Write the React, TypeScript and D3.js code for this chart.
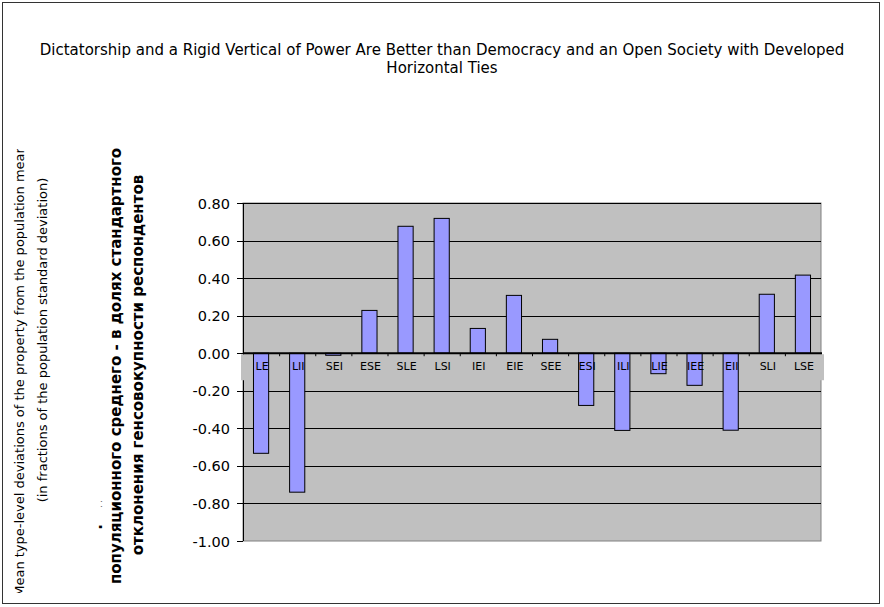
import React from "react";
import * as d3 from "d3";

const categories = ["LE", "LII", "SEI", "ESE", "SLE", "LSI", "IEI", "EIE", "SEE", "ESI", "ILI", "LIE", "IEE", "EII", "SLI", "LSE"];
const values = [-0.533, -0.74, -0.011, 0.228, 0.676, 0.718, 0.132, 0.308, 0.074, -0.278, -0.411, -0.109, -0.171, -0.41, 0.314, 0.416];
const yTicks = [0.8, 0.6, 0.4, 0.2, 0, -0.2, -0.4, -0.6, -0.8, -1.0];
const titleLines = [
  "Dictatorship and a Rigid Vertical of Power Are Better than Democracy and an Open Society with Developed",
  "Horizontal Ties",
];
const enAxis1 = "Mean type-level deviations of the property from the population mean";
const enAxis2 = "(in fractions of the population standard deviation)";
const ruAxis1 = "популяционного среднего - в долях стандартного";
const ruAxis2 = "отклонения генсовокупности респондентов";

const W = 884;
const H = 607;
const plot = { left: 243, right: 821, top: 203, bottom: 541 };

const fmt = d3.formatLocale({ decimal: ".", thousands: ",", grouping: [3], currency: ["", ""], minus: "-" }).format(".2f");

export default function App() {
  const x = d3.scaleBand<string>().domain(categories).range([plot.left, plot.right]).padding(0);
  const y = d3.scaleLinear().domain([-1, 0.8]).range([plot.bottom, plot.top]);
  const bw = x.bandwidth() * 0.42;
  const y0 = y(0);
  const font = "'DejaVu Sans', Verdana, sans-serif";

  return (
    <svg width={W} height={H} style={{ position: "absolute", left: 0, top: 0, background: "#fff" }}>
      <defs>
        <clipPath id="enclip">
          <rect x={0} y={149} width={40} height={444} />
        </clipPath>
      </defs>
      <rect x={2.5} y={2.5} width={877} height={601} fill="#fff" stroke="#333" strokeWidth={1} />
      {titleLines.map((t, i) => (
        <text key={i} x={442} y={55 + i * 18} textAnchor="middle" fontFamily={font} fontSize={15} fill="#000">
          {t}
        </text>
      ))}
      {/* plot background */}
      <rect x={plot.left} y={plot.top} width={plot.right - plot.left} height={plot.bottom - plot.top} fill="#C0C0C0" stroke="#808080" strokeWidth={1} />
      {yTicks.map((v) => (
        <line key={"g" + v} x1={plot.left} x2={plot.right} y1={Math.round(y(v)) + 0.5} y2={Math.round(y(v)) + 0.5} stroke="#000" strokeWidth={1} opacity={v === -1 ? 0 : 1} />
      ))}
      <line x1={plot.left + 0.5} x2={plot.left + 0.5} y1={plot.top} y2={plot.bottom} stroke="#000" />
      {yTicks.map((v) => (
        <g key={"t" + v}>
          <line x1={plot.left - 6} x2={plot.left} y1={Math.round(y(v)) + 0.5} y2={Math.round(y(v)) + 0.5} stroke="#000" />
          <text x={230} y={y(v) + 5.5} textAnchor="end" fontFamily={font} fontSize={14.5} fill="#000">
            {fmt(v)}
          </text>
        </g>
      ))}
      {/* label band */}
      <rect x={241} y={y0 + 1} width={583} height={26} fill="#C0C0C0" />
      {categories.map((c, i) => {
        const v = values[i];
        const cx = (x(c) as number) + x.bandwidth() / 2;
        return (
          <rect key={c} x={cx - bw / 2} y={Math.min(y(v), y0)} width={bw} height={Math.abs(y(v) - y0)} fill="#9999FF" stroke="#000" strokeWidth={1} />
        );
      })}
      <line x1={plot.left} x2={plot.right + 1} y1={y0} y2={y0} stroke="#000" strokeWidth={2} />
      {categories.slice(1).map((c) => (
        <line key={"ct" + c} x1={(x(c) as number) + 0.5} x2={(x(c) as number) + 0.5} y1={y0} y2={y0 + 3} stroke="#000" />
      ))}
      {categories.map((c) => (
        <text key={"l" + c} x={(x(c) as number) + x.bandwidth() / 2 + 1} y={y0 + 17} textAnchor="middle" fontFamily={font} fontSize={11} fill="#000">
          {c}
        </text>
      ))}
      {/* axis titles */}
      <g clipPath="url(#enclip)">
        <text transform={`translate(24,371) rotate(-90)`} textAnchor="middle" fontFamily={font} fontSize={13} fill="#000">
          {enAxis1}
        </text>
      </g>
      <text transform={`translate(47,340) rotate(-90)`} textAnchor="middle" fontFamily={font} fontSize={13} fill="#000">
        {enAxis2}
      </text>
      <text transform={`translate(102,504) rotate(-90)`} textAnchor="middle" fontFamily={font} fontSize={8} fill="#555">
        {". ."}
      </text>
      <text transform={`translate(102,527) rotate(-90)`} textAnchor="middle" fontFamily={font} fontWeight="bold" fontSize={15} fill="#000">
        {"."}
      </text>
      <text transform={`translate(121,366) rotate(-90)`} textAnchor="middle" fontFamily={font} fontWeight="bold" fontSize={15} fill="#000">
        {ruAxis1}
      </text>
      <text transform={`translate(143,365) rotate(-90)`} textAnchor="middle" fontFamily={font} fontWeight="bold" fontSize={15} fill="#000">
        {ruAxis2}
      </text>
    </svg>
  );
}
